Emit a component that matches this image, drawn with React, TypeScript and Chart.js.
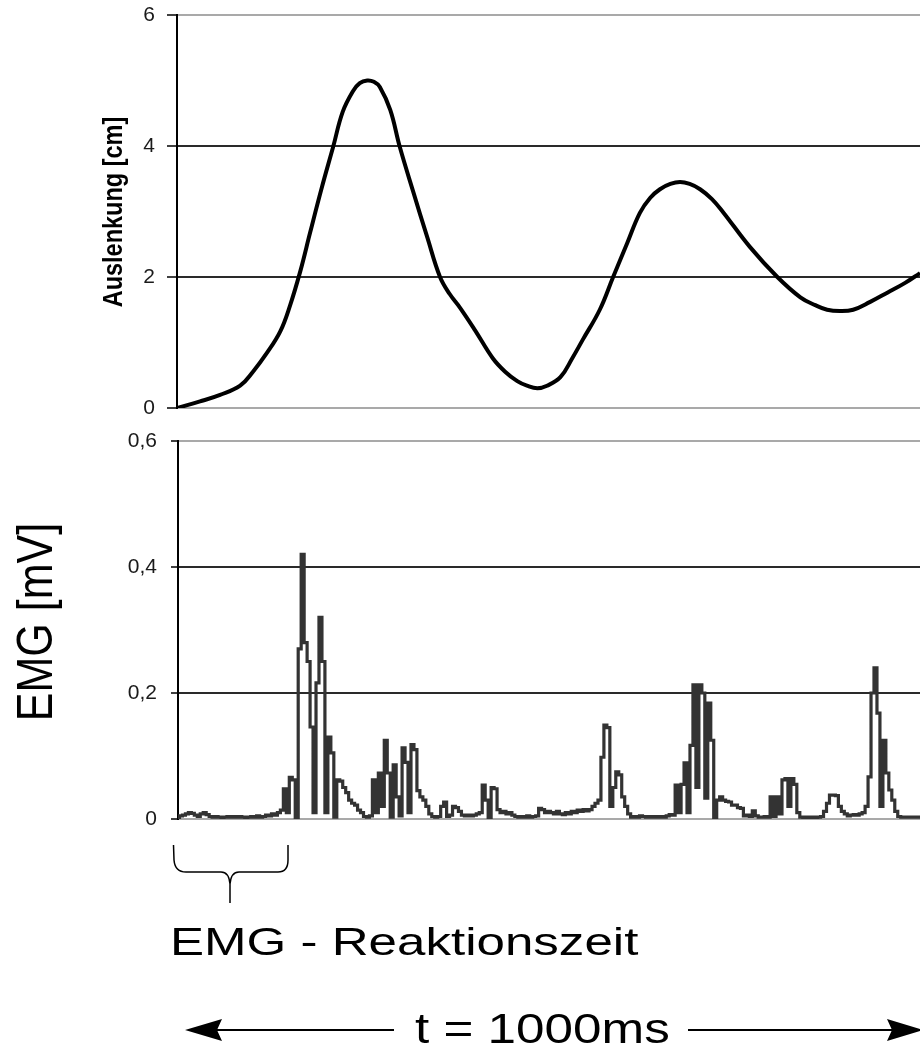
import React, { useEffect, useRef } from "react";
import { Chart, registerables } from "chart.js";

Chart.register(...registerables);

const FONT_FAMILY = '"Liberation Sans", Arial, Helvetica, sans-serif';

// Gemeinsame Zeitachse beider Diagramme (ms)
const T_MAX = 1000;

// Auslenkung [cm] über der Zeit [ms]
const dispTime = [
  0, 31, 58, 85, 102, 121, 139, 152, 166, 179, 195, 210, 223, 237, 246, 256, 265, 273, 287, 300,
  318, 337, 354, 367, 381, 401, 425, 442, 458, 471, 485, 498, 516, 532, 546, 569, 587, 606, 623, 637,
  650, 664, 677, 690, 704, 720, 735, 771, 808, 839, 859, 875, 892, 910, 933, 956, 980, 1000,
];
const dispValues = [
  0, 0.1, 0.2, 0.34, 0.55, 0.84, 1.17, 1.56, 2.09, 2.67, 3.37, 3.98, 4.52, 4.84, 4.96, 5.0, 4.98, 4.9, 4.55, 3.98,
  3.3, 2.6, 2.0, 1.74, 1.53, 1.19, 0.76, 0.55, 0.41, 0.34, 0.3, 0.34, 0.47, 0.76, 1.04, 1.5, 2.0, 2.52, 2.98, 3.21,
  3.34, 3.42, 3.45, 3.42, 3.34, 3.19, 2.99, 2.46, 2.0, 1.69, 1.57, 1.5, 1.48, 1.5, 1.62, 1.76, 1.91, 2.06,
];
const dispTicks = [0, 2, 4, 6];
const dispTickLabels = ["0", "2", "4", "6"];

// EMG [mV], Abtastintervall 4 ms (eine Zeile = 100 ms)
const EMG_SAMPLE_MS = 4;
const emgValues = [
  0.002, 0.005, 0.006, 0.008, 0.01, 0.009, 0.006, 0.004, 0.008, 0.01, 0.007, 0.004, 0.003, 0.004, 0.003, 0.002, 0.003, 0.004, 0.003, 0.004, 0.003, 0.004, 0.003, 0.002, 0.003,
  0.004, 0.003, 0.005, 0.003, 0.004, 0.006, 0.005, 0.008, 0.006, 0.01, 0.014, 0.048, 0.01, 0.066, 0.062, 0.002, 0.27, 0.42, 0.28, 0.25, 0.146, 0.01, 0.216, 0.32, 0.25,
  0.01, 0.13, 0.105, 0.003, 0.062, 0.06, 0.05, 0.042, 0.03, 0.025, 0.022, 0.014, 0.01, 0.004, 0.003, 0.005, 0.062, 0.01, 0.073, 0.02, 0.125, 0.073, 0.003, 0.086, 0.035,
  0.005, 0.113, 0.09, 0.01, 0.118, 0.11, 0.045, 0.035, 0.03, 0.02, 0.008, 0.004, 0.003, 0.004, 0.02, 0.027, 0.004, 0.006, 0.02, 0.018, 0.012, 0.006, 0.005, 0.006, 0.005,
  0.006, 0.008, 0.01, 0.054, 0.03, 0.002, 0.05, 0.048, 0.015, 0.01, 0.012, 0.008, 0.01, 0.006, 0.004, 0.003, 0.004, 0.003, 0.005, 0.003, 0.004, 0.005, 0.017, 0.015, 0.01,
  0.012, 0.01, 0.008, 0.012, 0.008, 0.007, 0.01, 0.008, 0.012, 0.01, 0.014, 0.012, 0.015, 0.013, 0.015, 0.02, 0.025, 0.03, 0.098, 0.149, 0.145, 0.02, 0.05, 0.075, 0.07,
  0.035, 0.02, 0.008, 0.003, 0.004, 0.003, 0.005, 0.004, 0.003, 0.004, 0.003, 0.004, 0.003, 0.004, 0.003, 0.005, 0.007, 0.006, 0.054, 0.01, 0.055, 0.089, 0.01, 0.117, 0.213,
  0.05, 0.213, 0.2, 0.033, 0.184, 0.125, 0.002, 0.03, 0.035, 0.03, 0.028, 0.027, 0.022, 0.022, 0.018, 0.017, 0.005, 0.006, 0.004, 0.013, 0.005, 0.003, 0.003, 0.004, 0.003,
  0.035, 0.004, 0.035, 0.008, 0.062, 0.064, 0.02, 0.064, 0.055, 0.01, 0.003, 0.002, 0.003, 0.002, 0.003, 0.002, 0.003, 0.004, 0.012, 0.025, 0.038, 0.038, 0.037, 0.02, 0.012,
  0.008, 0.005, 0.006, 0.007, 0.006, 0.008, 0.01, 0.02, 0.067, 0.2, 0.24, 0.168, 0.02, 0.125, 0.073, 0.046, 0.03, 0.012, 0.004, 0.003, 0.003, 0.003, 0.003, 0.003, 0.003,
  0.003,
];
const emgTicks = [0, 0.2, 0.4, 0.6];
const emgTickLabels = ["0", "0,2", "0,4", "0,6"];

// Vertikaler Achsentitel, quer zur Schreibrichtung gestreckt
function rotatedTitle(id: string, text: string, font: string, x: number, y: number, stretch: number) {
  return {
    id,
    afterDraw(chart: any) {
      const ctx = chart.ctx as CanvasRenderingContext2D;
      ctx.save();
      ctx.translate(x, y);
      ctx.rotate(-Math.PI / 2);
      ctx.scale(1, stretch);
      ctx.font = font;
      ctx.fillStyle = "#000";
      ctx.textAlign = "center";
      ctx.textBaseline = "alphabetic";
      ctx.fillText(text, 0, 0);
      ctx.restore();
    },
  };
}

function yAxis(ticks: number[], labels: string[], max: number, axisWidth: number, tickLength: number, tickPadding: number) {
  return {
    type: "linear",
    min: 0,
    max,
    afterBuildTicks: (scale: any) => {
      scale.ticks = ticks.map((v) => ({ value: v }));
    },
    afterFit: (scale: any) => {
      scale.width = axisWidth;
      scale.paddingTop = 0;
      scale.paddingBottom = 0;
    },
    ticks: {
      callback: (v: number) => labels[ticks.indexOf(v)] ?? "",
      font: { family: FONT_FAMILY, size: 21 },
      color: "#1a1a1a",
      padding: tickPadding,
    },
    grid: {
      color: (ctx: any) =>
        ctx.tick && (ctx.tick.value === 0 || ctx.tick.value === max) ? "#a9a9a9" : "#2a2a2a",
      lineWidth: 2,
      tickLength,
      tickColor: "#000",
      tickWidth: 1.5,
    },
    border: { display: true, color: "#000", width: 2 },
  };
}

const xAxis = { type: "linear", min: 0, max: T_MAX, display: false };

export default function App() {
  const dispRef = useRef<HTMLCanvasElement>(null);
  const emgRef = useRef<HTMLCanvasElement>(null);

  useEffect(() => {
    const charts: Chart[] = [];

    if (dispRef.current) {
      charts.push(
        new Chart(dispRef.current, {
          type: "line",
          data: {
            datasets: [
              {
                data: dispTime.map((t, i) => ({ x: t, y: dispValues[i] })),
                borderColor: "#000",
                borderWidth: 4,
                pointRadius: 0,
                tension: 0.4,
                fill: false,
              },
            ],
          },
          options: {
            responsive: false,
            animation: false,
            events: [],
            layout: { padding: { top: 15, bottom: 12, left: 0, right: 0 } },
            scales: {
              x: xAxis as any,
              y: yAxis(dispTicks, dispTickLabels, 6, 177, 10, 12) as any,
            },
            plugins: { legend: { display: false }, tooltip: { enabled: false } },
          },
          plugins: [rotatedTitle("dispTitle", "Auslenkung [cm]", `bold 23.5px ${FONT_FAMILY}`, 122, 212, 1.19)],
        })
      );
    }

    if (emgRef.current) {
      charts.push(
        new Chart(emgRef.current, {
          type: "line",
          data: {
            datasets: [
              {
                data: emgValues.map((v, i) => ({ x: i * EMG_SAMPLE_MS, y: v })),
                borderColor: "#333",
                borderWidth: 3.2,
                pointRadius: 0,
                stepped: "middle",
                fill: false,
              },
            ],
          },
          options: {
            responsive: false,
            animation: false,
            events: [],
            layout: { padding: { top: 21, bottom: 21, left: 0, right: 0 } },
            scales: {
              x: xAxis as any,
              y: yAxis(emgTicks, emgTickLabels, 0.6, 178, 7, 14) as any,
            },
            plugins: { legend: { display: false }, tooltip: { enabled: false } },
          },
          plugins: [rotatedTitle("emgTitle", "EMG [mV]", `43px ${FONT_FAMILY}`, 52, 202, 1.15)],
        })
      );
    }

    return () => charts.forEach((c) => c.destroy());
  }, []);

  return (
    <div
      style={{
        position: "absolute",
        left: 0,
        top: 0,
        width: 920,
        height: 1048,
        background: "#fff",
        overflow: "hidden",
      }}
    >
      <canvas ref={dispRef} width={920} height={420} style={{ position: "absolute", left: 0, top: 0 }} />
      <canvas ref={emgRef} width={920} height={420} style={{ position: "absolute", left: 0, top: 420 }} />
      <svg width={920} height={1048} style={{ position: "absolute", left: 0, top: 0 }}>
        {/* geschweifte Klammer über der Reaktionszeit */}
        <path
          d="M173.5 845 L174 860 Q175 872 186 872 L221 872 Q229 872 230 884 L230 903 M230 884 Q231 872 239 872 L278 872 Q288 872 288 860 L288 845"
          fill="none"
          stroke="#000"
          strokeWidth={1.5}
        />
        <text transform="translate(170 955) scale(1.31 1)" fontFamily={FONT_FAMILY} fontSize={39} fill="#000">
          EMG - Reaktionszeit
        </text>
        {/* Zeitpfeil */}
        <line x1={216} y1={1030} x2={394} y2={1030} stroke="#000" strokeWidth={2} />
        <polygon points="185,1030 222,1019 217,1030 222,1041" fill="#000" />
        <text transform="translate(415 1043) scale(1.22 1)" fontFamily={FONT_FAMILY} fontSize={42} fill="#000">
          t = 1000ms
        </text>
        <line x1={688} y1={1030} x2={893} y2={1030} stroke="#000" strokeWidth={2} />
        <polygon points="923,1030 887,1019 892,1030 887,1041" fill="#000" />
      </svg>
    </div>
  );
}
